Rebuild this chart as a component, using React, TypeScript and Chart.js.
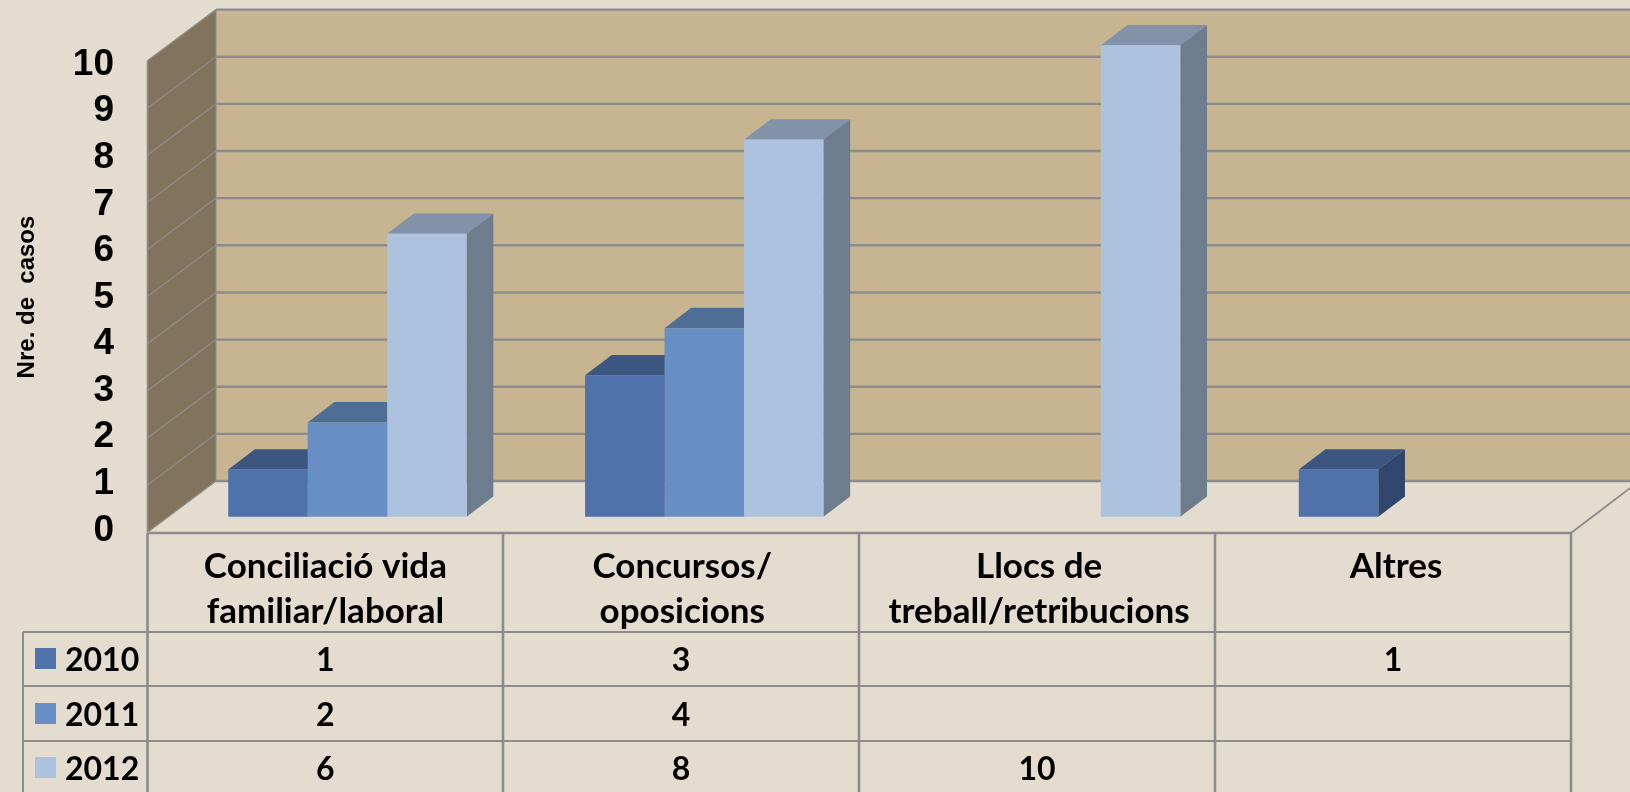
import React, { useEffect, useRef } from "react";
import { Chart, registerables } from "chart.js";

Chart.register(...registerables);

const categories = [
  ["Conciliació vida", "familiar/laboral"],
  ["Concursos/", "oposicions"],
  ["Llocs de", "treball/retribucions"],
  ["Altres"],
];
const seriesNames = ["2010", "2011", "2012"];
const values2010 = [1, 3, null, 1];
const values2011 = [2, 4, null, null];
const values2012 = [6, 8, 10, null];
const yTickValues = [0, 1, 2, 3, 4, 5, 6, 7, 8, 9, 10];
const yAxisTitle = "Nre. de  casos";

const W = 1630;
const H = 792;
const BG = "#E4DCCF";
const WALL = "#C7B491";
const SIDE = "#81735C";
const LINE = "#8C8C8C";
const FRONT = ["#4F72AA", "#678FC4", "#ADC2DE"];
const TOP = ["#3C5680", "#4F6E95", "#8293A9"];
const RIGHT = ["#30466D", "#4A6687", "#6E7D8E"];
const TABLE_FONT = "bold 32px Lato";

const FLOOR_FRONT_OFFSET = 15.5;
const BACK_OFFSET = 35.7;
const BAR_DX = 26.7;
const BAR_DY = 20.3;
const COL_X = [147.5, 503, 859, 1215, 1571];
const ROW_Y = [533, 632, 686, 741];
const ROW_TEXT_Y = [658, 713, 767];
const TEXT_DY = 3;
const LEFT_X = 23;
const BACK_X = 216;

const poly = (ctx: CanvasRenderingContext2D, pts: number[][], fill: string) => {
  ctx.beginPath();
  pts.forEach(([x, y], i) => (i ? ctx.lineTo(x, y) : ctx.moveTo(x, y)));
  ctx.closePath();
  ctx.fillStyle = fill;
  ctx.fill();
};
const line = (
  ctx: CanvasRenderingContext2D,
  x1: number,
  y1: number,
  x2: number,
  y2: number,
  w: number,
  c = LINE
) => {
  ctx.beginPath();
  ctx.moveTo(x1, y1);
  ctx.lineTo(x2, y2);
  ctx.lineWidth = w;
  ctx.strokeStyle = c;
  ctx.stroke();
};

const scene = {
  id: "scene",
  afterLayout(chart: any) {
    const s = chart.scales.yTitle;
    s.top += 25.5;
    s.bottom += 25.5;
  },
  beforeDraw(chart: any) {
    const ctx: CanvasRenderingContext2D = chart.ctx;
    const y = chart.scales.y;
    ctx.save();
    ctx.fillStyle = BG;
    ctx.fillRect(0, 0, W, H);

    const back = (v: number) => y.getPixelForValue(v) - BACK_OFFSET;
    const front = (v: number) => y.getPixelForValue(v) + FLOOR_FRONT_OFFSET;

    ctx.fillStyle = WALL;
    ctx.fillRect(BACK_X, back(10), W - BACK_X, back(0) - back(10));
    poly(
      ctx,
      [
        [COL_X[0], front(10)],
        [BACK_X, back(10)],
        [BACK_X, back(0)],
        [COL_X[0], front(0)],
      ],
      SIDE
    );
    yTickValues.forEach((v) => {
      line(ctx, BACK_X, back(v), W, back(v), 2.4);
      line(ctx, COL_X[0], front(v), BACK_X, back(v), 1.4, "#8F8C84");
    });
    line(ctx, COL_X[0], front(10), COL_X[0], front(0), 1.6);
    line(ctx, BACK_X, back(10), BACK_X, back(0), 1);
    line(ctx, COL_X[4], ROW_Y[0], COL_X[4] + 68.5, back(0), 1.8);

    // data table
    ROW_Y.forEach((ry, i) => {
      line(ctx, i === 0 ? COL_X[0] : LEFT_X, ry, COL_X[4], ry, i === 0 ? 2.6 : 2);
    });
    COL_X.forEach((cx) => line(ctx, cx, ROW_Y[0], cx, H, 2.6));
    line(ctx, LEFT_X, ROW_Y[1], LEFT_X, H, 2);

    const rows = [values2010, values2011, values2012];
    ctx.font = TABLE_FONT;
    ctx.fillStyle = "#000";
    ctx.textBaseline = "middle";
    rows.forEach((row, r) => {
      ctx.fillStyle = FRONT[r];
      ctx.fillRect(35, ROW_TEXT_Y[r] - 10, 21, 21);
      ctx.fillStyle = "#000";
      ctx.textAlign = "left";
      ctx.fillText(seriesNames[r], 65, ROW_TEXT_Y[r] + TEXT_DY);
      ctx.textAlign = "center";
      row.forEach((v, c) => {
        if (v !== null)
          ctx.fillText(String(v), (COL_X[c] + COL_X[c + 1]) / 2, ROW_TEXT_Y[r] + TEXT_DY);
      });
    });
    ctx.restore();
  },
  beforeDatasetsDraw(chart: any) {
    const ctx: CanvasRenderingContext2D = chart.ctx;
    ctx.save();
    chart.data.datasets.forEach((ds: any, d: number) => {
      chart.getDatasetMeta(d).data.forEach((bar: any, j: number) => {
        if (ds.data[j] === null) return;
        const l = bar.x - bar.width / 2;
        const r = bar.x + bar.width / 2;
        poly(
          ctx,
          [
            [l, bar.y],
            [l + BAR_DX, bar.y - BAR_DY],
            [r + BAR_DX, bar.y - BAR_DY],
            [r, bar.y],
          ],
          TOP[d]
        );
        poly(
          ctx,
          [
            [r, bar.y],
            [r + BAR_DX, bar.y - BAR_DY],
            [r + BAR_DX, bar.base - BAR_DY],
            [r, bar.base],
          ],
          RIGHT[d]
        );
      });
    });
    ctx.restore();
  },
};

export default function App() {
  const ref = useRef<HTMLCanvasElement>(null);
  useEffect(() => {
    document.body.style.margin = "0";
    document.body.style.background = BG;
    const chart = new Chart(ref.current as HTMLCanvasElement, {
      type: "bar",
      data: {
        labels: categories as any,
        datasets: [values2010, values2011, values2012].map((data, i) => ({
          label: seriesNames[i],
          data,
          yAxisID: "y",
          backgroundColor: FRONT[i],
          borderWidth: 0,
          categoryPercentage: 0.668,
          barPercentage: 1,
        })),
      },
      plugins: [scene],
      options: {
        responsive: false,
        animation: false,
        layout: { autoPadding: false, padding: { top: 10, right: 33.6, left: 0, bottom: 0 } },
        plugins: { legend: { display: false }, title: { display: false }, tooltip: { enabled: false } },
        scales: {
          x: {
            grid: { display: false, drawTicks: false },
            border: { display: false },
            afterFit: (s: any) => {
              s.height = 259;
            },
            ticks: {
              autoSkip: false,
              maxRotation: 0,
              minRotation: 0,
              labelOffset: -22,
              padding: 11,
              color: "#000",
              font: { family: "Lato", weight: "bold", size: 35, lineHeight: "45px" },
            },
          },
          y: { display: false, min: -0.346, max: 10.749 },
          yTicks: {
            position: "left",
            weight: 0,
            min: -0.057,
            max: 11.173,
            bounds: "data",
            grid: { display: false, drawTicks: false },
            border: { display: false },
            afterFit: (s: any) => {
              s.width = 119;
              s.paddingTop = 0;
              s.paddingBottom = 0;
            },
            afterBuildTicks: (s: any) => {
              s.ticks = yTickValues.map((value) => ({ value }));
            },
            ticks: {
              stepSize: 1,
              includeBounds: false,
              autoSkip: false,
              padding: 55,
              color: "#000",
              callback: (v: any) => String(v),
              font: { family: "Liberation Sans", weight: "bold", size: 37 },
            },
          },
          yTitle: {
            position: "left",
            weight: 1,
            min: 0,
            max: 1,
            grid: { display: false, drawTicks: false },
            border: { display: false },
            afterFit: (s: any) => {
              s.width = 50;
            },
            ticks: { display: false },
            title: {
              display: true,
              text: yAxisTitle,
              color: "#000",
              padding: { top: 12.5, bottom: 0 },
              font: { family: "Liberation Sans", weight: "bold", size: 24 },
            },
          },
        },
      } as any,
    } as any);
    return () => chart.destroy();
  }, []);
  return (
    <div style={{ position: "absolute", left: 0, top: 0, width: W, height: H, background: BG }}>
      <canvas ref={ref} width={W} height={H} style={{ display: "block" }} />
    </div>
  );
}
